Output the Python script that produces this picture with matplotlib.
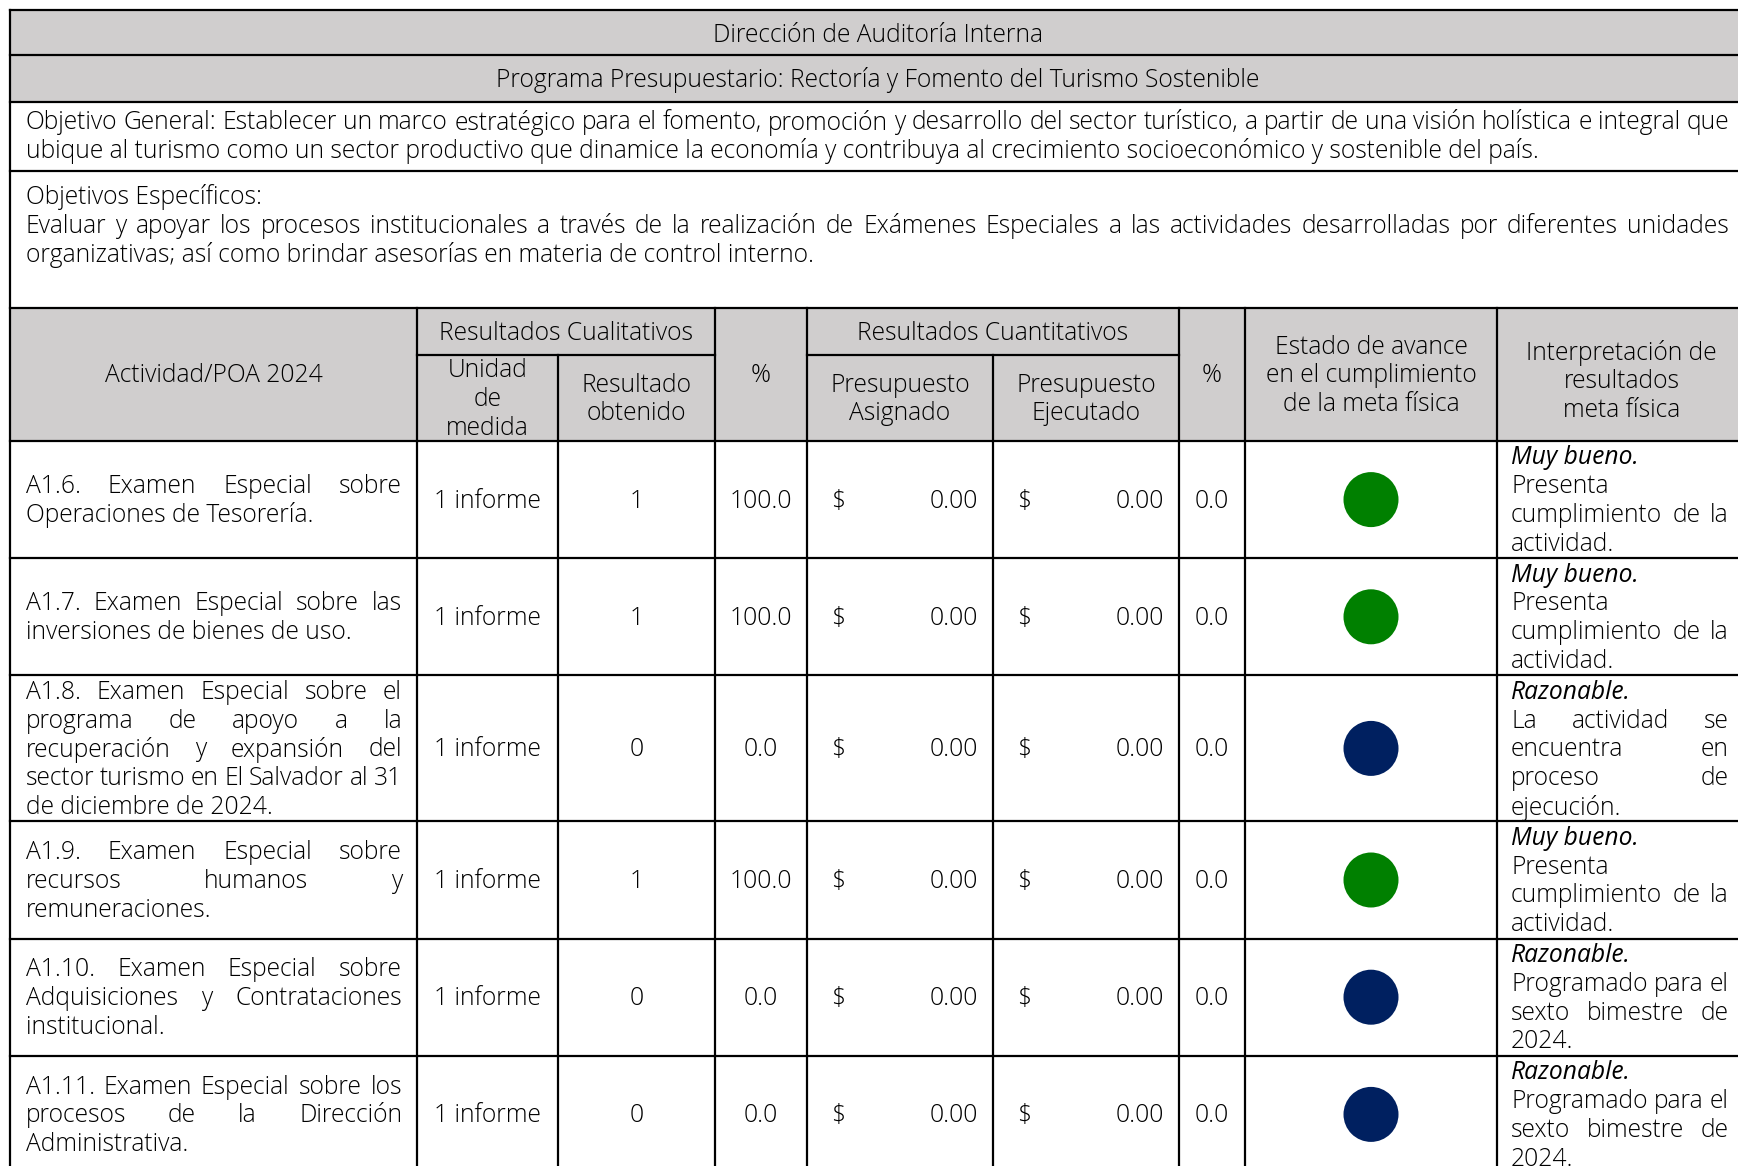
import matplotlib
matplotlib.use("Agg")
import matplotlib.pyplot as plt
from matplotlib.patches import Rectangle, Circle

plt.rcParams['font.family'] = ['Open Sans', 'DejaVu Sans']

# ---- datos de la tabla ----
titulo = "Dirección de Auditoría Interna"
programa = "Programa Presupuestario: Rectoría y Fomento del Turismo Sostenible"
obj_general = [
    "Objetivo General: Establecer un marco estratégico para el fomento, promoción y desarrollo del sector turístico, a partir de una visión holística e integral que",
    "ubique al turismo como un sector productivo que dinamice la economía y contribuya al crecimiento socioeconómico y sostenible del país.",
]
obj_esp_titulo = "Objetivos Específicos:"
obj_especificos = [
    "Evaluar y apoyar los procesos institucionales a través de la realización de Exámenes Especiales a las actividades desarrolladas por diferentes unidades",
    "organizativas; así como brindar asesorías en materia de control interno.",
]

actividades = [
    ["A1.6. Examen Especial sobre", "Operaciones de Tesorería."],
    ["A1.7. Examen Especial sobre las", "inversiones de bienes de uso."],
    ["A1.8. Examen Especial sobre el", "programa de apoyo a la", "recuperación y expansión del",
     "sector turismo en El Salvador al 31", "de diciembre de 2024."],
    ["A1.9. Examen Especial sobre", "recursos humanos y", "remuneraciones."],
    ["A1.10. Examen Especial sobre", "Adquisiciones y Contrataciones", "institucional."],
    ["A1.11. Examen Especial sobre los", "procesos de la Dirección", "Administrativa."],
]
unidad = ["1 informe", "1 informe", "1 informe", "1 informe", "1 informe", "1 informe"]
resultado = [1, 1, 0, 1, 0, 0]
pct_fisico = [100.0, 100.0, 0.0, 100.0, 0.0, 0.0]
asignado = [0.00, 0.00, 0.00, 0.00, 0.00, 0.00]
ejecutado = [0.00, 0.00, 0.00, 0.00, 0.00, 0.00]
pct_financiero = [0.0, 0.0, 0.0, 0.0, 0.0, 0.0]
estado = ["Muy bueno", "Muy bueno", "Razonable", "Muy bueno", "Razonable", "Razonable"]
interpretacion = [
    ["Presenta", "cumplimiento de la", "actividad."],
    ["Presenta", "cumplimiento de la", "actividad."],
    ["La actividad se", "encuentra en", "proceso de", "ejecución."],
    ["Presenta", "cumplimiento de la", "actividad."],
    ["Programado para el", "sexto bimestre de", "2024."],
    ["Programado para el", "sexto bimestre de", "2024."],
]
color_estado = {"Muy bueno": "#008000", "Razonable": "#002060"}

# ---- lienzo en pixeles ----
W, H = 1738, 1166
fig = plt.figure(figsize=(W / 100, H / 100), dpi=100)
ax = fig.add_axes([0, 0, 1, 1])
ax.set_xlim(0, W)
ax.set_ylim(H, 0)
ax.axis('off')
rend = fig.canvas.get_renderer()

FS = 17.75
LH = 28.8
GRIS = "#D0CECE"
LW = 1.6
DY = 1.5  # ajuste vertical del texto
PESO = 'light'

X = [10, 417, 558, 715, 807, 993, 1179, 1245, 1497, 1746]
Y0, Y1, Y2, Y3, Y4, YS, YH = 10, 55, 102, 171, 308, 355, 441


def txt(x, y, s, ha='left', style='normal', fs=FS):
    w = 'medium' if style == 'italic' else PESO
    return ax.text(x, y + DY, s, ha=ha, va='center', fontsize=fs, style=style,
                   fontweight=w, color='black')


def linea(s, x0, x1, y, justificar=False, style='normal'):
    palabras = s.split()
    if not justificar or len(palabras) < 2:
        txt(x0, y, s, style=style)
        return
    fs = FS
    while True:
        ts = [txt(x0, y, p, style=style, fs=fs) for p in palabras]
        ws = [t.get_window_extent(renderer=rend).width for t in ts]
        gap = (x1 - x0 - sum(ws)) / (len(palabras) - 1)
        if gap >= 0.16 * fs or fs < 12:
            break
        for t in ts:
            t.remove()
        fs -= 0.25
    x = x0
    for t, w in zip(ts, ws):
        t.set_x(x)
        x += w + gap


def parrafo(lineas, x0, x1, cy, justificar=True, estilos=None, libres=()):
    n = len(lineas)
    for i, s in enumerate(lineas):
        y = cy + (i - (n - 1) / 2) * LH
        st = estilos[i] if estilos else 'normal'
        linea(s, x0, x1, y, justificar and i < n - 1 and i not in libres, st)


def centrado(lineas, cx, cy):
    n = len(lineas)
    for i, s in enumerate(lineas):
        txt(cx, cy + (i - (n - 1) / 2) * LH, s, ha='center')


def hl(y, xa, xb):
    ax.plot([xa, xb], [y, y], color='black', lw=LW, solid_capstyle='projecting')


def vl(x, ya, yb):
    ax.plot([x, x], [ya, yb], color='black', lw=LW, solid_capstyle='projecting')


# filas de altura segun contenido
alturas = [max(len(a), 1 + len(b)) * LH + 2 for a, b in zip(actividades, interpretacion)]
bordes = [YH]
for h in alturas:
    bordes.append(bordes[-1] + h)

# fondos grises
ax.add_patch(Rectangle((X[0], Y0), X[-1] - X[0], Y2 - Y0, color=GRIS, lw=0))
ax.add_patch(Rectangle((X[0], Y4), X[-1] - X[0], YH - Y4, color=GRIS, lw=0))

# encabezados superiores
centrado([titulo], (X[0] + X[-1]) / 2, (Y0 + Y1) / 2 + 1.5)
centrado([programa], (X[0] + X[-1]) / 2, (Y1 + Y2) / 2)
parrafo(obj_general, 25.5, 1729, (Y2 + Y3) / 2 - 1)
linea(obj_esp_titulo, 25.5, 1729, 196)
parrafo(obj_especificos, 25.5, 1729, 239.5)

# encabezado de la tabla
centrado(["Actividad/POA 2024"], (X[0] + X[1]) / 2, (Y4 + YH) / 2)
centrado(["Resultados Cualitativos"], (X[1] + X[3]) / 2, (Y4 + YS) / 2)
centrado(["Unidad", "de", "medida"], (X[1] + X[2]) / 2, (YS + YH) / 2)
centrado(["Resultado", "obtenido"], (X[2] + X[3]) / 2, (YS + YH) / 2)
centrado(["%"], (X[3] + X[4]) / 2, (Y4 + YH) / 2)
centrado(["Resultados Cuantitativos"], (X[4] + X[6]) / 2, (Y4 + YS) / 2)
centrado(["Presupuesto", "Asignado"], (X[4] + X[5]) / 2, (YS + YH) / 2)
centrado(["Presupuesto", "Ejecutado"], (X[5] + X[6]) / 2, (YS + YH) / 2)
centrado(["%"], (X[6] + X[7]) / 2, (Y4 + YH) / 2)
centrado(["Estado de avance", "en el cumplimiento", "de la meta física"], (X[7] + X[8]) / 2, (Y4 + YH) / 2)
centrado(["Interpretación de", "resultados", "meta física"], (X[8] + X[9]) / 2, (Y4 + YH) / 2 + 6)

# filas
for i in range(len(actividades)):
    cy = (bordes[i] + bordes[i + 1]) / 2
    parrafo(actividades[i], 25.5, 402, cy)
    txt((X[1] + X[2]) / 2, cy, unidad[i], ha='center')
    txt((X[2] + X[3]) / 2, cy, f"{resultado[i]}", ha='center')
    txt((X[3] + X[4]) / 2, cy, f"{pct_fisico[i]:.1f}", ha='center')
    txt(X[4] + 24, cy, "$")
    txt(X[5] - 15, cy, f"{asignado[i]:.2f}", ha='right')
    txt(X[5] + 24, cy, "$")
    txt(X[6] - 15, cy, f"{ejecutado[i]:.2f}", ha='right')
    txt((X[6] + X[7]) / 2, cy, f"{pct_financiero[i]:.1f}", ha='center')
    ax.add_patch(Circle(((X[7] + X[8]) / 2, cy), 27.5, color=color_estado[estado[i]], lw=0))
    lineas = [estado[i] + "."] + interpretacion[i]
    estilos = ['italic'] + ['normal'] * len(interpretacion[i])
    parrafo(lineas, 1511, 1729, cy, estilos=estilos, libres=(0,))

# lineas de la tabla
for y in [Y0, Y1, Y2, Y3, Y4, YH] + bordes[1:]:
    hl(y, X[0], X[-1])
hl(YS, X[1], X[3])
hl(YS, X[4], X[6])
vl(X[0], Y0, bordes[-1])
for k in [1, 3, 4, 6, 7, 8]:
    vl(X[k], Y4, bordes[-1])
for k in [2, 5]:
    vl(X[k], YS, bordes[-1])

fig.savefig("out.png", dpi=100)
